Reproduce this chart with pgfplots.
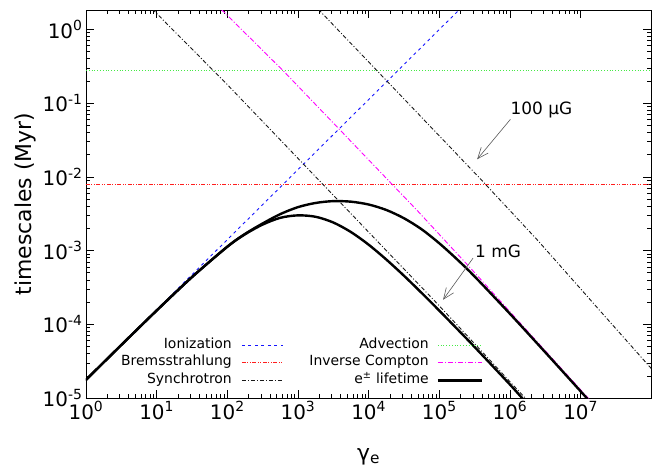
\documentclass[border=0pt]{standalone}
\usepackage{fontspec}
\setmainfont{DejaVu Sans}
\usepackage{pgfplots}
\pgfplotsset{compat=1.18}
\usetikzlibrary{arrows.meta}
\definecolor{ionblue}{RGB}{20,20,255}
\definecolor{bremred}{RGB}{255,30,30}
\definecolor{advgreen}{RGB}{70,235,70}
\definecolor{icmag}{RGB}{255,0,255}
\definecolor{syncgray}{RGB}{25,25,25}

\tikzset{
 ionstyle/.style={draw=ionblue, line width=0.9bp, dash pattern=on 3bp off 3.5bp},
 advstyle/.style={draw=advgreen, line width=0.9bp, dash pattern=on 1bp off 1.8bp},
 bremstyle/.style={draw=bremred, line width=0.9bp, dash pattern=on 4bp off 1.5bp on 1bp off 1.5bp on 1bp off 1.5bp},
 icstyle/.style={draw=icmag, line width=0.9bp, dash pattern=on 5bp off 2bp on 1bp off 2bp},
 syncstyle/.style={draw=syncgray, line width=0.9bp, dash pattern=on 4bp off 2bp on 1bp off 2bp},
 lifestyle/.style={draw=black, line width=2.4bp, line cap=round},
 legtext/.style={anchor=mid east, inner sep=0pt, font=\fontsize{14}{16}\selectfont},
}

\begin{document}
\begin{tikzpicture}
\begin{axis}[
 scale only axis, width=565bp, height=388bp,
 xmode=log, ymode=log,
 xmin=1, xmax=9.9e7, ymin=1e-5, ymax=1.83,
 xtick={1,10,100,1000,10000,100000,1000000,10000000},
 xticklabels={10\textsuperscript{0},10\textsuperscript{1},10\textsuperscript{2},10\textsuperscript{3},10\textsuperscript{4},10\textsuperscript{5},10\textsuperscript{6},10\textsuperscript{7}},
 ytick={1e-5,1e-4,1e-3,1e-2,1e-1,1},
 yticklabels={10\textsuperscript{-5},10\textsuperscript{-4},10\textsuperscript{-3},10\textsuperscript{-2},10\textsuperscript{-1},10\textsuperscript{0}},
 tick label style={font=\fontsize{20}{24}\selectfont},
 major tick length=8bp, minor tick length=4bp,
 tick style={black, line width=0.6bp},
 axis line style={line width=0.8bp},
 xlabel={γ\textsubscript{e}}, ylabel={timescales (Myr)},
 label style={font=\fontsize{22}{26}\selectfont},
 xlabel style={at={(axis description cs:0.5,-0.152)}, anchor=center},
 ylabel style={at={(axis description cs:-0.108,0.5)}, anchor=center},
]
% Ionization
\addplot[ionstyle] coordinates {(1,1.77e-5) (1e6,8.87)};
% Advection
\addplot[advstyle] coordinates {(1,0.28) (1e8,0.28)};
% Bremsstrahlung
\addplot[bremstyle] coordinates {(1,7.96e-3) (1e8,7.96e-3)};
% Inverse Compton
\addplot[icstyle] coordinates {
 (66.1,2.29) (631,0.269) (5.01e4,3.39e-3) (3.162e5,5.01e-4) (1e6,1.479e-4) (3.162e6,4.365e-5) (1.585e7,7.94e-6)};
% Synchrotron, 1 mG
\addplot[syncstyle] coordinates {
 (7.08,2.29) (100,0.178) (1e4,1.778e-3) (1e5,1.778e-4) (1.64e6,1e-5) (2e6,8.2e-6)};
% Synchrotron, 100 muG
\addplot[syncstyle] coordinates {
 (1585,2.29) (3.74e5,9.57e-3) (2.512e6,1.349e-3) (2.344e7,1.2e-4) (1e8,2.51e-5)};
% e+- lifetime, 1 mG
\addplot[lifestyle, smooth] coordinates {
 (1,1.765e-5) (3.162,5.24e-5) (10,1.537e-4) (31.62,4.365e-4) (100,1.125e-3) (177.8,1.66e-3)
 (316.2,2.25e-3) (562.3,2.78e-3) (1000,3.0e-3) (1778,2.87e-3) (3162,2.40e-3) (5623,1.78e-3)
 (1e4,1.20e-3) (1.778e4,7.55e-4) (3.162e4,4.55e-4) (5.623e4,2.66e-4) (1e5,1.53e-4)
 (1.778e5,8.70e-5) (3.162e5,4.911e-5) (1e6,1.521e-5) (1.585e6,9.29e-6)};
% e+- lifetime, 100 muG
\addplot[lifestyle, smooth] coordinates {
 (1,1.765e-5) (3.162,5.24e-5) (10,1.538e-4) (31.62,4.365e-4) (100,1.13e-3) (177.8,1.68e-3)
 (316.2,2.33e-3) (562.3,3.12e-3) (1000,3.88e-3) (1778,4.42e-3) (3162,4.68e-3) (5623,4.60e-3)
 (1e4,4.210e-3) (1.778e4,3.550e-3) (3.162e4,2.741e-3) (5.623e4,1.941e-3) (1e5,1.253e-3)
 (1.778e5,7.62e-4) (3.162e5,4.444e-4) (1e6,1.386e-4) (3.162e6,4.162e-5) (1e7,1.232e-5) (1.259e7,9.67e-6)};

% legend samples (gnuplot style: text, then line sample)
\addplot[ionstyle] coordinates {(161,5.16e-5) (611,5.16e-5)};
\addplot[bremstyle] coordinates {(161,2.99e-5) (611,2.99e-5)};
\addplot[syncstyle] coordinates {(161,1.73e-5) (611,1.73e-5)};
\addplot[advstyle] coordinates {(9.52e4,5.16e-5) (3.99e5,5.16e-5)};
\addplot[icstyle] coordinates {(9.52e4,2.99e-5) (3.99e5,2.99e-5)};
\addplot[lifestyle, line cap=butt] coordinates {(9.52e4,1.73e-5) (3.99e5,1.73e-5)};
\node[legtext] at (axis description cs:0.2584,0.1347) {Ionization};
\node[legtext] at (axis description cs:0.2584,0.0896) {Bremsstrahlung};
\node[legtext] at (axis description cs:0.2584,0.0446) {Synchrotron};
\node[legtext] at (axis description cs:0.6071,0.1347) {Advection};
\node[legtext] at (axis description cs:0.6071,0.0896) {Inverse Compton};
\node[legtext] at (axis description cs:0.6071,0.0446) {e\textsuperscript{±} lifetime};

% annotations
\node[font=\fontsize{17}{20}\selectfont] at (axis cs:2.786e6,0.0805) {100 µG};
\draw[draw=gray!70!black, line width=0.6bp, -{Straight Barb[length=11bp,width=9bp]}] (axis cs:1.016e6,0.0603) -- (axis cs:3.43e5,0.0173);
\node[font=\fontsize{17}{20}\selectfont] at (axis cs:6.79e5,9.68e-4) {1 mG};
\draw[draw=gray!70!black, line width=0.6bp, -{Straight Barb[length=11bp,width=9bp]}] (axis cs:3.0e5,7.89e-4) -- (axis cs:1.13e5,2.15e-4);

\coordinate (sw) at (rel axis cs:0,0);
\coordinate (ne) at (rel axis cs:1,1);
\end{axis}
\pgfresetboundingbox
\path[use as bounding box] (sw) ++(-86bp,-70bp) rectangle ([shift={(21bp,10bp)}]ne);
\end{tikzpicture}
\end{document}
